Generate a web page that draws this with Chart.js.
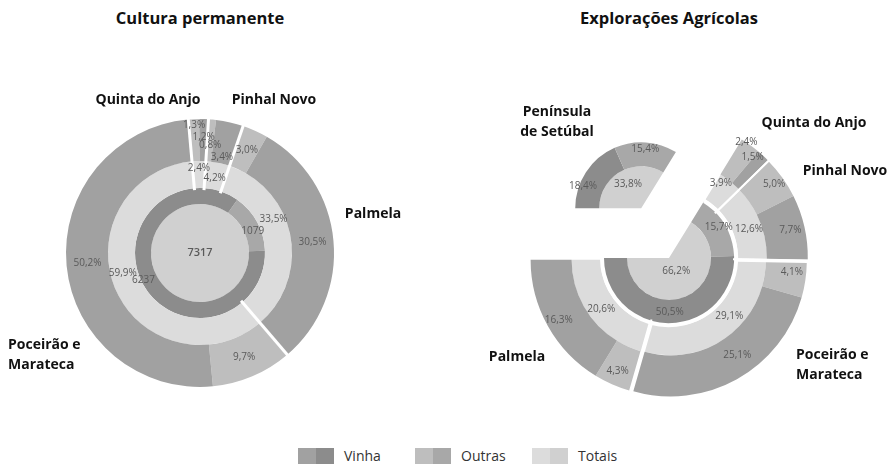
<!DOCTYPE html>
<html>
<head>
<meta charset="utf-8">
<script src="https://cdn.jsdelivr.net/npm/chart.js@4.4.0/dist/chart.umd.min.js"></script>
<style>
  body { margin: 0; background: #fff; font-family: 'Open Sans', sans-serif; }
  #wrap { position: relative; width: 888px; height: 467px; overflow: hidden; }
  .title { position: absolute; top: 6px; width: 444px; text-align: center; font-weight: bold; font-size: 16.5px; color: #111; }
  canvas { position: absolute; top: 0; }
  #legend { position: absolute; left: 298px; top: 446px; display: flex; }
  .item { width: 117px; display: flex; align-items: center; font-size: 14px; color: #333; }
  .sw { width: 36px; height: 16px; display: flex; margin-right: 10px; }
  .sw span { flex: 1; }
</style>
</head>
<body>
<div id="wrap">
  <div class="title" style="left:-22px">Cultura permanente</div>
  <div class="title" style="left:447px">Explorações Agrícolas</div>
  <canvas id="cp" width="444" height="440" style="left:0"></canvas>
  <canvas id="ea" width="444" height="440" style="left:444px"></canvas>
  <div id="legend"></div>
</div>
<script>
// categories
const types = ['Vinha', 'Outras', 'Totais'];
const parishes = ['Quinta do Anjo', 'Pinhal Novo', 'Palmela', 'Poceirão e Marateca'];

// Cultura permanente (total do concelho e % por freguesia)
const cpTotal = 7317;
const cpVinha = 6237;
const cpOutras = 1079;
const cpParishTotal = [2.4, 4.2, 33.5, 59.9];
const cpParishVinha = [1.2, 3.4, 30.5, 50.2];
const cpParishOutras = [1.3, 0.8, 3.0, 9.7];

// Explorações Agrícolas (% da Península de Setúbal)
const eaPeninsula = 33.8;
const eaPenVinha = 18.4;
const eaPenOutras = 15.4;
const eaPalmela = 66.2;
const eaPalmelaVinha = 50.5;
const eaPalmelaOutras = 15.7;
const eaParishTotal = [3.9, 12.6, 29.1, 20.6];
const eaParishVinha = [1.5, 7.7, 25.1, 16.3];
const eaParishOutras = [2.4, 5.0, 4.1, 4.3];

// greys: inner rings darker, outer rings lighter
const C = {
  vinhaIn: '#8c8c8c', vinhaOut: '#a1a1a1',
  outrasIn: '#a8a8a8', outrasOut: '#bebebe',
  totaisIn: '#d0d0d0', totaisOut: '#dcdcdc',
  none: 'rgba(0,0,0,0)'
};

const pct = v => v.toFixed(1).replace('.', ',') + '%';
const pairs = (a, b) => a.flatMap((v, i) => [v, b[i]]);

// draws white separators, value labels and parish names; also explodes slices
const ringDecor = {
  id: 'ringDecor',
  beforeDatasetsDraw(chart, args, o) {
    const ca = chart.chartArea;
    const cx = (ca.left + ca.right) / 2, cy = (ca.top + ca.bottom) / 2;
    (o.explode || []).forEach(g => {
      const ref = chart.getDatasetMeta(g.ref[0]).data[g.ref[1]];
      const mid = (ref.startAngle + ref.endAngle) / 2;
      g.arcs.forEach(([d, i]) => {
        const a = chart.getDatasetMeta(d).data[i];
        a.x = cx + Math.cos(mid) * g.dist;
        a.y = cy + Math.sin(mid) * g.dist;
      });
    });
  },
  afterDatasetsDraw(chart, args, o) {
    const ctx = chart.ctx;
    const ca = chart.chartArea;
    const cx = (ca.left + ca.right) / 2, cy = (ca.top + ca.bottom) / 2;
    ctx.save();
    ctx.strokeStyle = '#fff';

    (o.circles || []).forEach(c => {
      const r = chart.getDatasetMeta(c.ds).controller.innerRadius + (c.shift || 0);
      let a0 = 0, a1 = Math.PI * 2;
      if (c.range) {
        const m = chart.getDatasetMeta(c.range[0]).data;
        a0 = m[c.range[1]].startAngle;
        a1 = m[c.range[2]].endAngle;
      }
      ctx.lineWidth = c.width;
      ctx.beginPath();
      ctx.arc(cx, cy, r, a0, a1);
      ctx.stroke();
    });

    if (o.radials) {
      const R = o.radials;
      const arcs = chart.getDatasetMeta(R.ds).data;
      const r0 = chart.getDatasetMeta(R.ds).controller.innerRadius - 2;
      const r1 = chart.getDatasetMeta(0).controller.outerRadius + 4;
      ctx.lineWidth = R.width;
      R.at.forEach(i => {
        const ang = arcs[i].startAngle;
        ctx.beginPath();
        ctx.moveTo(cx + Math.cos(ang) * r0, cy + Math.sin(ang) * r0);
        ctx.lineTo(cx + Math.cos(ang) * r1, cy + Math.sin(ang) * r1);
        ctx.stroke();
      });
    }

    ctx.fillStyle = '#5a5a5a';
    ctx.textAlign = 'center';
    ctx.textBaseline = 'middle';
    (o.values || []).forEach((v, d) => {
      ctx.font = v.font || '10px "Open Sans"';
      chart.getDatasetMeta(d).data.forEach((a, i) => {
        if (!v.text[i]) return;
        const mid = (a.startAngle + a.endAngle) / 2 + ((v.turn && v.turn[i]) || 0) * Math.PI / 180;
        const r = a.innerRadius + (a.outerRadius - a.innerRadius) * v.pos[i];
        ctx.fillText(v.text[i], a.x + Math.cos(mid) * r, a.y + Math.sin(mid) * r);
      });
    });

    ctx.fillStyle = '#111';
    ctx.font = 'bold 14px "Open Sans"';
    (o.names || []).forEach(n => {
      ctx.textAlign = n.align || 'center';
      n.lines.forEach((t, k) => ctx.fillText(t, cx + n.dx, cy + n.dy + k * 20));
    });
    ctx.restore();
  }
};

const baseOptions = (padding, decor) => ({
  responsive: false,
  animation: false,
  cutout: 0,
  layout: { padding },
  plugins: { legend: { display: false }, tooltip: { enabled: false }, ringDecor: decor }
});

// Cultura permanente
new Chart(document.getElementById('cp'), {
  type: 'doughnut',
  data: {
    datasets: [
      { data: pairs(cpParishOutras, cpParishVinha),
        backgroundColor: pairs(cpParishOutras.map(() => C.outrasOut), cpParishVinha.map(() => C.vinhaOut)),
        weight: 42, rotation: -5, borderWidth: 0 },
      { data: cpParishTotal, backgroundColor: C.totaisOut, weight: 27, rotation: -5, borderWidth: 0 },
      { data: [cpOutras, cpVinha], backgroundColor: [C.outrasIn, C.vinhaIn], weight: 16, rotation: 35, borderWidth: 0 },
      { data: [cpTotal], backgroundColor: C.totaisIn, weight: 49, rotation: -5, borderWidth: 0 }
    ]
  },
  options: baseOptions({ left: 66, right: 110, top: 119, bottom: 53 }, {
    circles: [{ ds: 2, width: 3 }, { ds: 1, width: 3 }],
    radials: { ds: 1, at: [0, 1, 2, 3], width: 3 },
    values: [
      { text: pairs(cpParishOutras.map(pct), cpParishVinha.map(pct)), pos: [0.86, 0.57, 0.38, 0.14, 0.5, 0.5, 0.5, 0.5] },
      { text: cpParishTotal.map(pct), pos: [0.75, 0.4, 0.6, 0.55], turn: [0, 0, -14, 8] },
      { text: [String(cpOutras), String(cpVinha)], pos: [0.5, 0.85], turn: [6, 3] },
      { text: [String(cpTotal)], pos: [0], font: '600 11px "Open Sans"' }
    ],
    names: [
      { lines: [parishes[0]], dx: -52, dy: -153 },
      { lines: [parishes[1]], dx: 74, dy: -153 },
      { lines: [parishes[2]], dx: 173, dy: -39 },
      { lines: ['Poceirão e', 'Marateca'], dx: -192, dy: 92, align: 'left' }
    ]
  }),
  plugins: [ringDecor]
});

// Explorações Agrícolas
const eaExplode = [{ ref: [3, 0], dist: 57, arcs: [[3, 0], [2, 0], [2, 1], [1, 0], [0, 0]] }];
eaParishTotal.forEach((v, k) => {
  eaExplode.push({ ref: [1, k + 1], dist: 3, arcs: [[1, k + 1], [0, 2 * k + 1], [0, 2 * k + 2]] });
});

new Chart(document.getElementById('ea'), {
  type: 'doughnut',
  data: {
    datasets: [
      { data: [eaPeninsula, ...pairs(eaParishOutras, eaParishVinha)],
        backgroundColor: [C.none, ...pairs(eaParishOutras.map(() => C.outrasOut), eaParishVinha.map(() => C.vinhaOut))],
        weight: 41, rotation: -90, borderWidth: 0 },
      { data: [eaPeninsula, ...eaParishTotal], backgroundColor: [C.none, ...eaParishTotal.map(() => C.totaisOut)],
        weight: 29, rotation: -90, borderWidth: 0 },
      { data: [eaPenVinha, eaPenOutras, eaPalmelaOutras, eaPalmelaVinha],
        backgroundColor: [C.vinhaIn, C.outrasIn, C.outrasIn, C.vinhaIn], weight: 24, rotation: -90, borderWidth: 0 },
      { data: [eaPeninsula, eaPalmela], backgroundColor: C.totaisIn, weight: 42, rotation: -90, borderWidth: 0 }
    ]
  },
  options: baseOptions({ left: 89, right: 83, top: 122, bottom: 46 }, {
    explode: eaExplode,
    circles: [{ ds: 1, width: 4, shift: 1, range: [2, 2, 3] }],
    radials: { ds: 1, at: [2, 3, 4], width: 2 },
    values: [
      { text: ['', ...pairs(eaParishOutras.map(pct), eaParishVinha.map(pct))],
        pos: [0, 1.0, 0.8, 0.75, 0.65, 0.65, 0.5, 0.65, 0.7], turn: [0, -2, -3, 0, 0, -3, -6, 0, 0] },
      { text: ['', ...eaParishTotal.map(pct)], pos: [0, 0.75, 0.55, 0.5, 0.55], turn: [0, -4, 2, -10, 0] },
      { text: [eaPenVinha, eaPenOutras, eaPalmelaOutras, eaPalmelaVinha].map(pct), pos: [0.85, 0.7, 0.7, 0.5], turn: [-12, 0, -2, 0] },
      { text: [pct(eaPeninsula), pct(eaPalmela)], pos: [0.65, 0.35] }
    ],
    names: [
      { lines: ['Península', 'de Setúbal'], dx: -112, dy: -146 },
      { lines: [parishes[0]], dx: 145, dy: -135 },
      { lines: [parishes[1]], dx: 176, dy: -87 },
      { lines: ['Poceirão e', 'Marateca'], dx: 127, dy: 97, align: 'left' },
      { lines: [parishes[2]], dx: -152, dy: 99 }
    ]
  }),
  plugins: [ringDecor]
});

// shared legend (two shades per type)
const shades = [[C.vinhaOut, C.vinhaIn], [C.outrasOut, C.outrasIn], [C.totaisOut, C.totaisIn]];
document.getElementById('legend').innerHTML = types.map((t, i) =>
  `<div class="item"><div class="sw"><span style="background:${shades[i][0]}"></span><span style="background:${shades[i][1]}"></span></div>${t}</div>`
).join('');
</script>
</body>
</html>
